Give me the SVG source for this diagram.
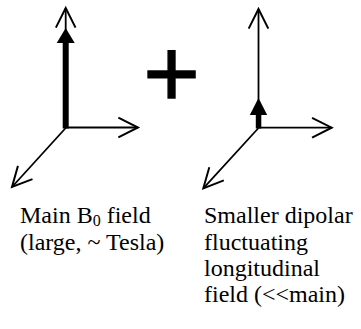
<svg xmlns="http://www.w3.org/2000/svg" width="361" height="329" viewBox="0 0 361 329">
<style>
.ax{stroke:#000;stroke-width:1.8;fill:none;marker-end:url(#open)}
.lbl{font-family:"Liberation Serif","Times New Roman",serif;font-size:24px;fill:#000}
.fld{fill:#000;stroke:none}
</style>
<defs>
<marker id="open" markerUnits="userSpaceOnUse" markerWidth="24" markerHeight="24" viewBox="-20 -11 22 22" refX="0" refY="0" orient="auto" overflow="visible">
<path d="M-18,-9 L0,0 L-18,9" fill="none" stroke="#000" stroke-width="1.8"/>
</marker>
</defs>
<rect width="361" height="329" fill="#fff"/>
<g id="axes-main">
<line class="ax" x1="65.7" y1="128" x2="65.7" y2="8"/>
<line class="ax" x1="65.7" y1="127.5" x2="138" y2="127.5"/>
<line class="ax" x1="65.7" y1="128" x2="12" y2="187"/>
<rect class="fld" x="62.7" y="42" width="6" height="86.5"/>
<polygon class="fld" points="65.7,28 74.7,43 56.7,43"/>
</g>
<g id="plus">
<text x="171.7" y="107" text-anchor="middle" font-family="Liberation Sans, Arial, sans-serif" font-size="97" fill="#000" stroke="#000" stroke-width="1.3">+</text>
</g>
<g id="axes-dipolar">
<line class="ax" x1="258.5" y1="128" x2="258.5" y2="9"/>
<line class="ax" x1="258.5" y1="127.7" x2="331.7" y2="127.7"/>
<line class="ax" x1="258.5" y1="128" x2="203.3" y2="188.3"/>
<rect class="fld" x="255.8" y="114" width="5.5" height="14.5"/>
<polygon class="fld" points="258.5,98 267.2,115 249.8,115"/>
</g>
<g id="labels">
<text class="lbl" x="20" y="223.3">Main B<tspan font-size="16" dy="3">0</tspan><tspan dy="-3"> field</tspan></text>
<text class="lbl" x="20" y="249.5">(large, ~ Tesla)</text>
<text class="lbl" x="204" y="223.3">Smaller dipolar</text>
<text class="lbl" x="204" y="250">fluctuating</text>
<text class="lbl" x="204" y="276">longitudinal</text>
<text class="lbl" x="204" y="301.7">field (&lt;&lt;main)</text>
</g>
</svg>
